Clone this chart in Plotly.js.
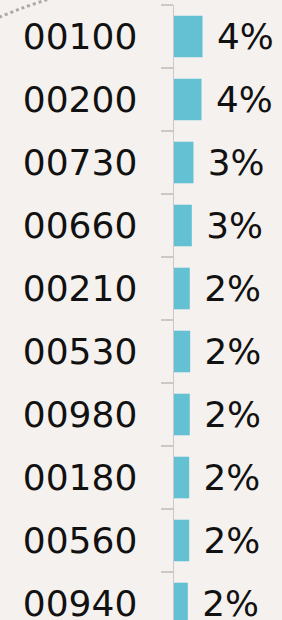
<!DOCTYPE html>
<html>
<head>
<meta charset="utf-8">
<script src="https://cdn.plot.ly/plotly-3.0.1.min.js"></script>
<style>
html,body{margin:0;padding:0;background:#f5f1ee;}
#chart{width:282px;height:620px;}
</style>
</head>
<body>
<div id="chart"></div>
<script>
const categories = ["00100","00200","00730","00660","00210","00530","00980","00180","00560","00940"];
const shares = [4.32, 4.17, 2.95, 2.70, 2.39, 2.45, 2.39, 2.30, 2.30, 2.09];
const shareLabels = ["4%","4%","3%","3%","2%","2%","2%","2%","2%","2%"];

const FONT = "DejaVu Sans, sans-serif";

const trace = {
  type: "bar",
  orientation: "h",
  x: shares,
  y: categories,
  text: shareLabels.map(s => " " + s),
  textposition: "outside",
  textfont: {family: FONT, size: 37, color: "#111111"},
  cliponaxis: false,
  marker: {color: "#63c1d3", line: {width: 0}},
  hoverinfo: "none"
};

const layout = {
  width: 282,
  height: 620,
  margin: {l: 174, r: 0, t: 5, b: 0, pad: 0},
  paper_bgcolor: "#f5f1ee",
  plot_bgcolor: "rgba(0,0,0,0)",
  bargap: 0.34,
  showlegend: false,
  font: {family: FONT, color: "#111111"},
  xaxis: {
    range: [0, 16.36],
    visible: false,
    fixedrange: true
  },
  yaxis: {
    type: "category",
    range: [9.262, -0.5],
    showline: true,
    linecolor: "#c9c9c9",
    linewidth: 1.5,
    ticks: "outside",
    tickson: "boundaries",
    ticklen: 12,
    tickcolor: "#c9c9c9",
    tickwidth: 1.5,
    ticklabelstandoff: 28,
    showgrid: false,
    zeroline: false,
    tickfont: {family: FONT, size: 36, color: "#111111"},
    fixedrange: true
  },
  shapes: [{
    type: "path",
    xref: "paper", yref: "paper",
    path: "M -1.62,0.98 Q -1.35,1.0 -1.11,1.012",
    line: {color: "#a9a9a9", width: 3, dash: "dot"},
    layer: "above"
  }]
};

Plotly.newPlot("chart", [trace], layout, {displayModeBar: false, staticPlot: true});
</script>
</body>
</html>
